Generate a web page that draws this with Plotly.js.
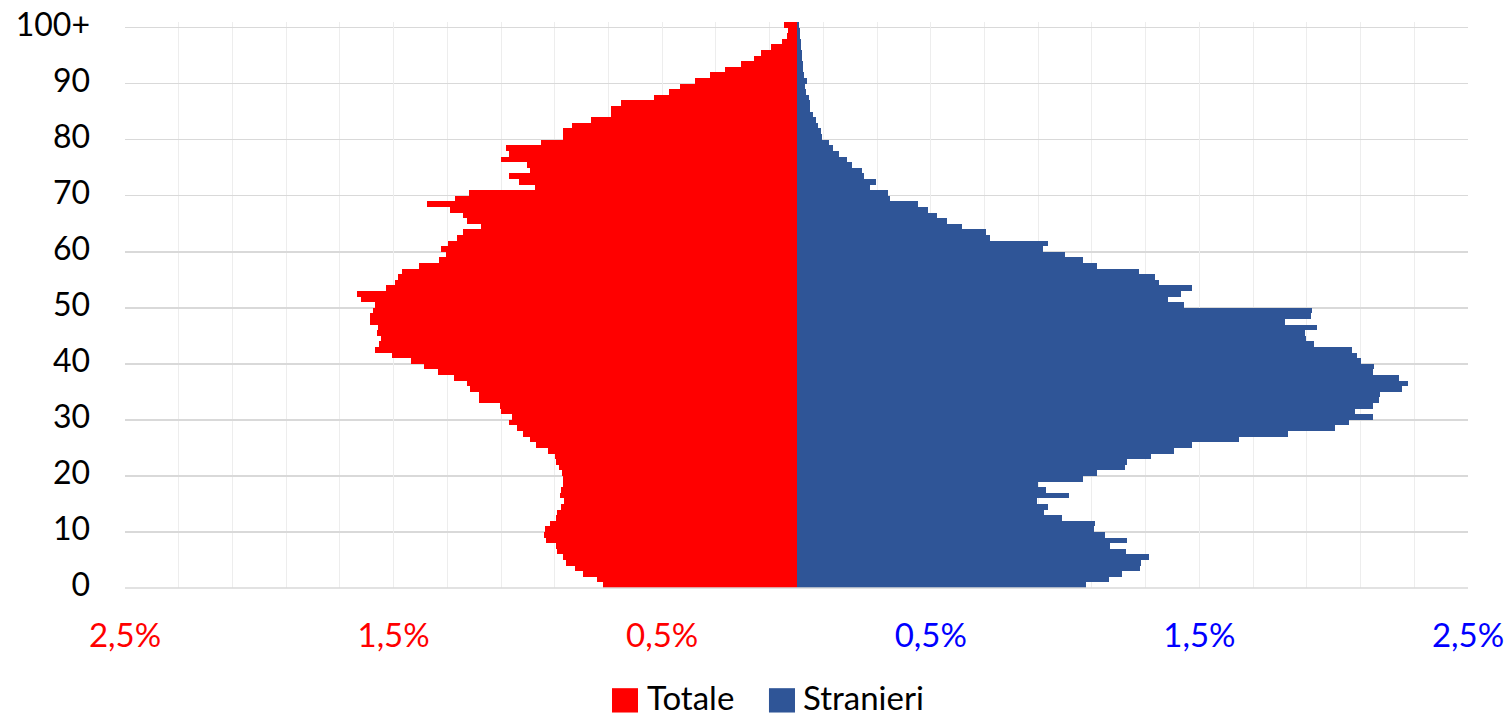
<!DOCTYPE html>
<html>
<head>
<meta charset="utf-8">
<script src="https://cdn.plot.ly/plotly-3.0.1.min.js"></script>
<style>
  html, body { margin: 0; padding: 0; background: #ffffff; }
  #chart { width: 1511px; height: 721px; }
</style>
</head>
<body>
<div id="chart"></div>
<script>
// Età (0 ... 100+)
const ages = [0,1,2,3,4,5,6,7,8,9,10,11,12,13,14,15,16,17,18,19,20,21,22,23,24,25,26,27,28,29,30,31,32,33,34,35,36,37,38,39,40,41,42,43,44,45,46,47,48,49,50,51,52,53,54,55,56,57,58,59,60,61,62,63,64,65,66,67,68,69,70,71,72,73,74,75,76,77,78,79,80,81,82,83,84,85,86,87,88,89,90,91,92,93,94,95,96,97,98,99,100];

// Totale: quota % della popolazione per singola età
const totale = [0.722,0.741,0.794,0.825,0.860,0.869,0.891,0.896,0.931,0.941,
0.935,0.916,0.894,0.890,0.875,0.866,0.880,0.875,0.871,0.869,
0.873,0.885,0.894,0.899,0.927,0.971,0.993,1.018,1.040,1.069,
1.061,1.099,1.105,1.183,1.183,1.214,1.225,1.275,1.335,1.385,
1.437,1.506,1.568,1.554,1.546,1.562,1.558,1.589,1.589,1.576,
1.570,1.623,1.638,1.527,1.494,1.484,1.468,1.406,1.330,1.304,
1.324,1.296,1.265,1.243,1.173,1.228,1.243,1.291,1.375,1.271,
1.219,0.974,1.033,1.072,0.994,1.004,1.102,1.072,1.082,0.953,
0.869,0.869,0.834,0.766,0.689,0.689,0.654,0.531,0.475,0.435,
0.378,0.322,0.265,0.208,0.158,0.132,0.095,0.053,0.037,0.030,
0.047];

// Stranieri: quota % per singola età
const stranieri = [1.077,1.164,1.212,1.278,1.282,1.314,1.226,1.167,1.229,1.149,
1.106,1.113,0.987,0.923,0.935,0.897,1.015,0.930,0.899,1.067,
1.117,1.223,1.231,1.318,1.406,1.473,1.649,1.830,2.005,2.057,
2.145,2.081,2.146,2.170,2.174,2.253,2.278,2.243,2.146,2.149,
2.101,2.088,2.068,1.927,1.897,1.893,1.937,1.818,1.915,1.919,
1.442,1.384,1.433,1.472,1.350,1.336,1.275,1.118,1.068,0.998,
0.918,0.937,0.722,0.705,0.616,0.561,0.522,0.491,0.451,0.347,
0.339,0.273,0.297,0.253,0.245,0.205,0.187,0.157,0.136,0.120,
0.096,0.092,0.080,0.072,0.062,0.052,0.049,0.046,0.036,0.030,
0.040,0.027,0.025,0.023,0.022,0.020,0.018,0.016,0.014,0.012,
0.010];

// Etichette degli assi e della legenda
const yTickVals = [0,10,20,30,40,50,60,70,80,90,100];
const yTickText = ['0','10','20','30','40','50','60','70','80','90','100+'];
const xTickVals = [-2.5,-1.5,-0.5,0.5,1.5,2.5];
const xTickText = ['2,5%','1,5%','0,5%','0,5%','1,5%','2,5%'];
const xTickColors = ['#FF0000','#FF0000','#FF0000','#0000FF','#0000FF','#0000FF'];
const seriesNames = ['Totale','Stranieri'];
const seriesColors = ['#FF0000','#2F5597'];

const FONT = "Lato, 'Open Sans', sans-serif";

const traces = [
  {
    type: 'bar', orientation: 'h', name: seriesNames[0],
    y: ages, x: totale.map(v => -v),
    marker: { color: seriesColors[0], line: { width: 0 } },
    hoverinfo: 'skip', showlegend: false
  },
  {
    type: 'bar', orientation: 'h', name: seriesNames[1],
    y: ages, x: stranieri,
    marker: { color: seriesColors[1], line: { width: 0 } },
    hoverinfo: 'skip', showlegend: false
  }
];

// Legenda disegnata in basso, centrata (quadrati + testo)
const legendSquares = [[0.3626, 0.3820], [0.4795, 0.4989]];
const legendTextX = [0.3872, 0.5035];
const shapes = [
  { type: 'line', xref: 'paper', yref: 'paper', x0: 0, x1: 1, y0: 0, y1: 0,
    line: { color: '#d9d9d9', width: 1.5 }, layer: 'above' }
];
const annotations = [];
seriesNames.forEach(function (name, i) {
  shapes.push({ type: 'rect', xref: 'paper', yref: 'paper',
    x0: legendSquares[i][0], x1: legendSquares[i][1], y0: -0.2200, y1: -0.1770,
    fillcolor: seriesColors[i], line: { width: 0 } });
  annotations.push({ xref: 'paper', yref: 'paper', x: legendTextX[i], y: -0.2315,
    xanchor: 'left', yanchor: 'bottom', showarrow: false, text: name,
    font: { family: FONT, size: 33, color: '#000000' } });
});

const layout = {
  width: 1511, height: 721,
  margin: { l: 125, r: 43, t: 22, b: 133 },
  paper_bgcolor: '#ffffff', plot_bgcolor: '#ffffff',
  barmode: 'relative', bargap: 0,
  font: { family: FONT, size: 32, color: '#000000' },
  xaxis: {
    range: [-2.5, 2.5],
    tickmode: 'array', tickvals: xTickVals,
    ticktext: xTickText.map((t, i) => '<span style="color:' + xTickColors[i] + '">' + t + '</span>'),
    ticks: '', ticklabelstandoff: 25,
    tickfont: { family: FONT, size: 33 },
    showgrid: true, gridcolor: '#ededed', gridwidth: 1,
    minor: { tick0: -2.5, dtick: 0.2, showgrid: true, gridcolor: '#ededed', gridwidth: 1 },
    zeroline: false, showline: false, fixedrange: true
  },
  yaxis: {
    range: [-0.5, 100.5],
    tickmode: 'array', tickvals: yTickVals, ticktext: yTickText,
    ticks: '', ticklabelstandoff: 34,
    tickfont: { family: FONT, size: 32, color: '#000000' },
    showgrid: false,
    minor: { tick0: -0.5, dtick: 10, showgrid: true, gridcolor: '#d9d9d9', gridwidth: 1.5 },
    zeroline: false, showline: false, fixedrange: true
  },
  shapes: shapes,
  annotations: annotations,
  showlegend: false
};

Plotly.newPlot('chart', traces, layout, { displayModeBar: false, staticPlot: true });
</script>
</body>
</html>
